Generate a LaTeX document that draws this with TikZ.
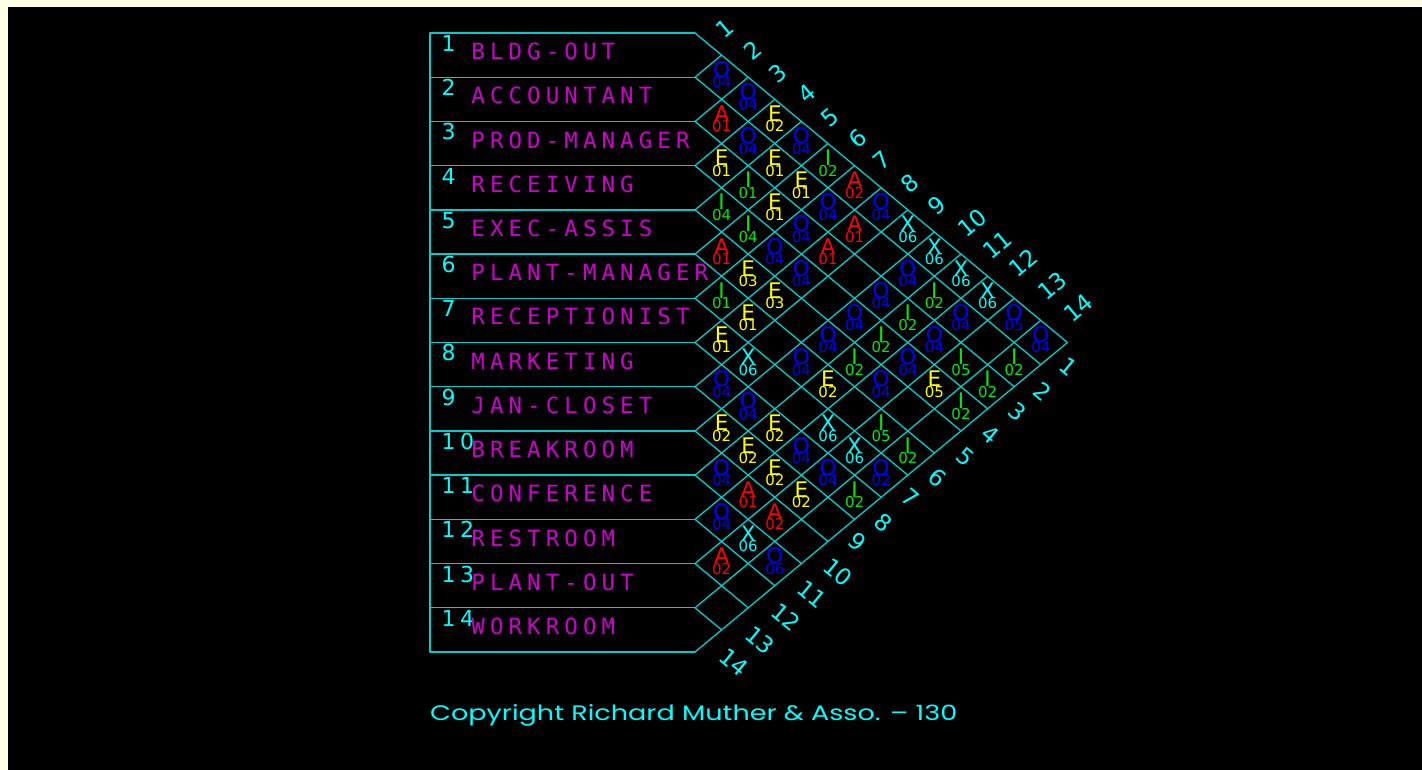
\documentclass[tikz,border=0pt]{standalone}
\usepackage{fontspec}
\usepackage{graphicx}
\newfontfamily\dvs{DejaVu Sans}
\newfontfamily\dvm{DejaVu Sans Mono}
\newfontfamily\popp{Poppins}
\definecolor{creamc}{RGB}{255,255,228}
\definecolor{gridc}{RGB}{0,205,205}
\definecolor{cyanL}{RGB}{0,255,255}
\definecolor{magentaN}{RGB}{205,0,205}
\definecolor{relA}{RGB}{255,0,0}
\definecolor{relE}{RGB}{255,255,0}
\definecolor{relI}{RGB}{0,235,0}
\definecolor{relO}{RGB}{0,0,255}
\definecolor{relX}{RGB}{0,255,255}
\newcommand\chspace[2]{\def\chw{#1}\edef\chtmp{#2}\expandafter\chspaceA\chtmp\relax}
\def\chspaceA#1{\ifx#1\relax\else\makebox[\chw][c]{#1}\expandafter\chspaceA\fi}
\begin{document}
\begin{tikzpicture}[x=1pt,y=-1pt,
  gridline/.style={draw=gridc, line width=1.3pt, line join=round, line cap=round},
  relletter/.style={inner sep=0pt, anchor=base, font=\dvs\fontsize{21.5}{21.5}\selectfont},
  relnum/.style={inner sep=0pt, anchor=base, font=\dvs\fontsize{15}{15}\selectfont},
  toplabel/.style={inner sep=0pt, text=cyanL, rotate=39.6, font=\dvs\fontsize{23}{23}\selectfont},
  botlabel/.style={inner sep=0pt, text=cyanL, rotate=-39.6, font=\dvs\fontsize{23}{23}\selectfont},
  rownum/.style={inner sep=0pt, anchor=base west, text=cyanL, font=\dvs\fontsize{22}{22}\selectfont},
  rowname/.style={inner sep=0pt, anchor=base west, text=magentaN, font=\dvm\fontsize{22.4}{22.4}\selectfont},
  copytext/.style={inner sep=0pt, anchor=base west, text=cyanL}]
\useasboundingbox (0,0) rectangle (1422,770);
\fill[creamc] (0,0) rectangle (1422,770);
\fill[black] (8,7) rectangle (1422,770);
% row boxes
\foreach \k in {0,...,14} {
  \pgfmathsetmacro\yy{33+\k*44.214}
  \draw[gridline] (430,\yy) -- (695,\yy);
}
\draw[gridline] (430,33) -- (430,652);
% down-right lines
\foreach \k in {0,...,13} {
  \pgfmathsetmacro\yy{33+\k*44.214}
  \pgfmathsetmacro\nn{14-\k}
  \draw[gridline] (695,\yy) -- ++({\nn*26.6},{\nn*22.107});
}
% up-right lines
\foreach \k in {1,...,14} {
  \pgfmathsetmacro\yy{33+\k*44.214}
  \draw[gridline] (695,\yy) -- ++({\k*26.6},{-\k*22.107});
}
% row numbers and names
\foreach \i/\nm in {1/BLDG-OUT,2/ACCOUNTANT,3/PROD-MANAGER,4/RECEIVING,5/EXEC-ASSIS,6/PLANT-MANAGER,7/RECEPTIONIST,8/MARKETING,9/JAN-CLOSET,10/BREAKROOM,11/CONFERENCE,12/RESTROOM,13/PLANT-OUT,14/WORKROOM} {
  \pgfmathsetmacro\yt{33+(\i-1)*44.214}
  \node[rownum] (rn\i) at (439,\yt+18.5) {\chspace{18.6pt}{\i}};
  \node[rowname] (rname\i) at (468.7,\yt+26.7) {\chspace{18.6pt}{\nm}};
}
% top column labels
\foreach \j/\px/\py in {1/725/28,2/753/50,3/778/73,4/807/93,5/830/118,6/858/138,7/882/160,8/910/183,9/937/205,10/972/223,11/997/245,12/1023/263,13/1052/286,14/1078/308} {
  \node[toplabel] (top\j) at (\px,\py) {\j};
}
% bottom row labels
\foreach \j/\px/\py in {1/1068/367,2/1043/392,3/1017/412,4/990/435,5/965/457,6/937/478,7/910/498,8/883/523,9/857/542,10/838/572,11/812/594,12/786/617,13/760/640,14/734/662} {
  \node[botlabel] (bot\j) at (\px,\py) {\j};
}
% relationship cells
\foreach \i/\j/\L/\N in {1/2/O/04,1/3/O/04,2/3/A/01,1/4/E/02,2/4/O/04,1/5/O/04,3/4/E/01,2/5/E/01,1/6/I/02,3/5/I/01,2/6/E/01,1/7/A/02,4/5/I/04,3/6/E/01,2/7/O/04,1/8/O/04,4/6/I/04,3/7/O/04,2/8/A/01,1/9/X/06,5/6/A/01,4/7/O/04,3/8/A/01,1/10/X/06,5/7/E/03,4/8/O/04,2/10/O/04,1/11/X/06,6/7/I/01,5/8/E/03,3/10/O/04,2/11/I/02,1/12/X/06,6/8/E/01,4/10/O/04,3/11/I/02,2/12/O/04,1/13/O/05,7/8/E/01,5/10/O/04,4/11/I/02,3/12/O/04,1/14/O/04,7/9/X/06,6/10/O/04,5/11/I/02,4/12/O/04,3/13/I/05,2/14/I/02,8/9/O/04,6/11/E/02,5/12/O/04,4/13/E/05,3/14/I/02,8/10/O/04,4/14/I/02,9/10/E/02,8/11/E/02,7/12/X/06,6/13/I/05,9/11/E/02,8/12/O/04,7/13/X/06,6/14/I/02,10/11/O/04,9/12/E/02,8/13/O/04,7/14/O/02,10/12/A/01,9/13/E/02,8/14/I/02,11/12/O/04,10/13/A/02,11/13/X/06,12/13/A/02,11/14/O/06} {
  \pgfmathsetmacro\cx{695+(\j-\i)*26.6}
  \pgfmathsetmacro\cy{33+(\i+\j-1)*22.107}
  \node[relletter, text=rel\L] (L\i-\j) at (\cx,\cy) {\L};
  \node[relnum, text=rel\L] (N\i-\j) at (\cx,\cy+10.5) {\N};
}
% copyright
\node[copytext] (copy) at (430,720) {\resizebox{527pt}{16pt}{\popp Copyright Richard Muther \& Asso. – 130}};
\end{tikzpicture}
\end{document}
